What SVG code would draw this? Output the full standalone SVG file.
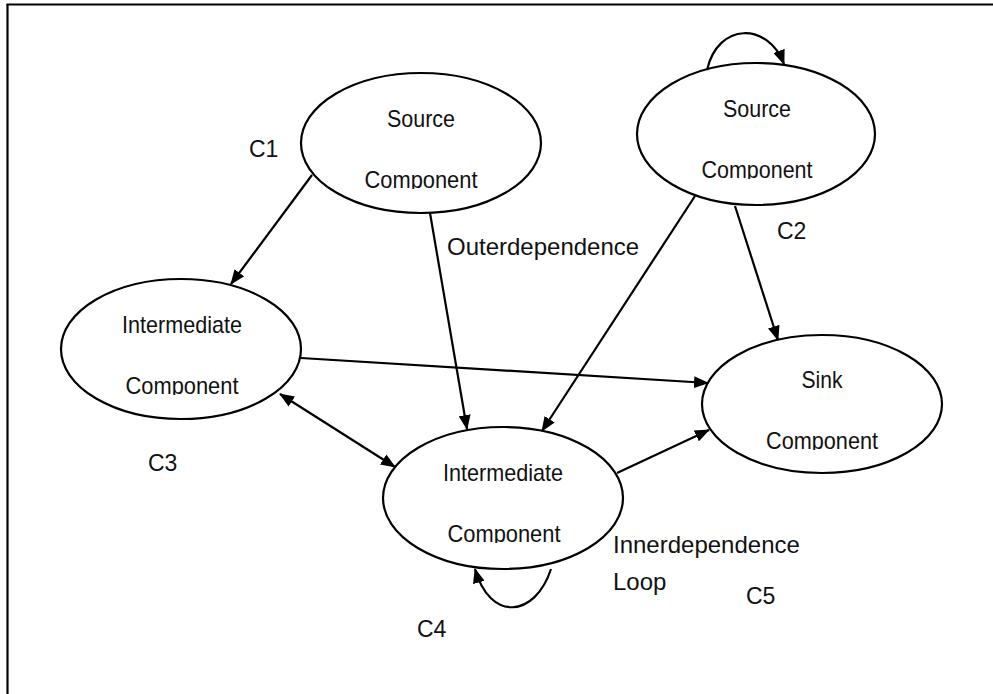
<svg xmlns="http://www.w3.org/2000/svg" width="993" height="694" viewBox="0 0 993 694">
<defs>
<marker id="ah" viewBox="0 0 15 12" refX="14" refY="6" markerWidth="15" markerHeight="12" markerUnits="userSpaceOnUse" orient="auto-start-reverse">
<path d="M0,0 L15,6 L0,12 Z" fill="#000"/>
</marker>
<clipPath id="k1"><rect x="300" y="150" width="240" height="39"/></clipPath>
<clipPath id="k2"><rect x="640" y="140" width="235" height="39"/></clipPath>
<clipPath id="k3"><rect x="60" y="356" width="240" height="39"/></clipPath>
<clipPath id="k4"><rect x="383" y="504" width="240" height="39"/></clipPath>
<clipPath id="k5"><rect x="702" y="411" width="240" height="39"/></clipPath>
</defs>
<style>
.node ellipse{fill:#fff;stroke:#000;stroke-width:2.2}
.nt{font-family:"Liberation Sans",Arial,sans-serif;font-size:24px;fill:#111;text-anchor:middle}
.lbl{font-family:"Liberation Sans",Arial,sans-serif;font-size:23px;fill:#111}
.big{font-family:"Liberation Sans",Arial,sans-serif;font-size:24px;fill:#111}
.edge{fill:none;stroke:#000;stroke-width:2.2}
</style>
<rect x="0" y="0" width="993" height="694" fill="#fff"/>
<g id="frame">
<line x1="6.5" y1="4.5" x2="993" y2="4.5" stroke="#000" stroke-width="2.2"/>
<line x1="7.5" y1="4" x2="7.5" y2="694" stroke="#000" stroke-width="2.2"/>
</g>
<g id="c1" class="node">
<ellipse cx="421" cy="143" rx="120" ry="70"/>
<text class="nt" x="421" y="127" textLength="68" lengthAdjust="spacingAndGlyphs">Source</text>
<text class="nt" x="421" y="188" textLength="113" lengthAdjust="spacingAndGlyphs" clip-path="url(#k1)">Component</text>
</g>
<g id="c2" class="node">
<ellipse cx="756" cy="134" rx="119" ry="71"/>
<text class="nt" x="757" y="117" textLength="68" lengthAdjust="spacingAndGlyphs">Source</text>
<text class="nt" x="757" y="178" textLength="111" lengthAdjust="spacingAndGlyphs" clip-path="url(#k2)">Component</text>
</g>
<g id="c3" class="node">
<ellipse cx="181" cy="349" rx="120" ry="70"/>
<text class="nt" x="182" y="333" textLength="120" lengthAdjust="spacingAndGlyphs">Intermediate</text>
<text class="nt" x="182" y="394" textLength="113" lengthAdjust="spacingAndGlyphs" clip-path="url(#k3)">Component</text>
</g>
<g id="c4" class="node">
<ellipse cx="503" cy="498" rx="120" ry="71"/>
<text class="nt" x="503" y="481" textLength="120" lengthAdjust="spacingAndGlyphs">Intermediate</text>
<text class="nt" x="504" y="542" textLength="113" lengthAdjust="spacingAndGlyphs" clip-path="url(#k4)">Component</text>
</g>
<g id="c5" class="node">
<ellipse cx="822" cy="404" rx="120" ry="69"/>
<text class="nt" x="822" y="388" textLength="41" lengthAdjust="spacingAndGlyphs">Sink</text>
<text class="nt" x="822" y="449" textLength="112" lengthAdjust="spacingAndGlyphs" clip-path="url(#k5)">Component</text>
</g>
<g id="connectors">
<line class="edge" x1="312" y1="175" x2="231" y2="284" marker-end="url(#ah)"/>
<line class="edge" x1="430" y1="213" x2="467" y2="429" marker-end="url(#ah)"/>
<line class="edge" x1="301" y1="358" x2="708" y2="383" marker-end="url(#ah)"/>
<line class="edge" x1="280" y1="394" x2="395" y2="467" marker-start="url(#ah)" marker-end="url(#ah)"/>
<line class="edge" x1="617" y1="473" x2="709" y2="430" marker-end="url(#ah)"/>
<line class="edge" x1="695" y1="196" x2="542" y2="431" marker-end="url(#ah)"/>
<line class="edge" x1="735" y1="206" x2="778" y2="340" marker-end="url(#ah)"/>
<path class="edge" d="M707,70 C718,22 768,22 784,64" marker-end="url(#ah)"/>
<path class="edge" d="M551,569 C535,618 490,622 475,569" marker-end="url(#ah)"/>
</g>
<g id="labels">
<text class="lbl" x="249" y="157">C1</text>
<text class="lbl" x="777" y="239">C2</text>
<text class="lbl" x="148" y="471">C3</text>
<text class="lbl" x="417" y="637">C4</text>
<text class="lbl" x="746" y="604">C5</text>
<text class="big" x="447" y="255">Outerdependence</text>
<text class="big" x="613" y="553">Innerdependence</text>
<text class="big" x="613" y="590">Loop</text>
</g>
</svg>
